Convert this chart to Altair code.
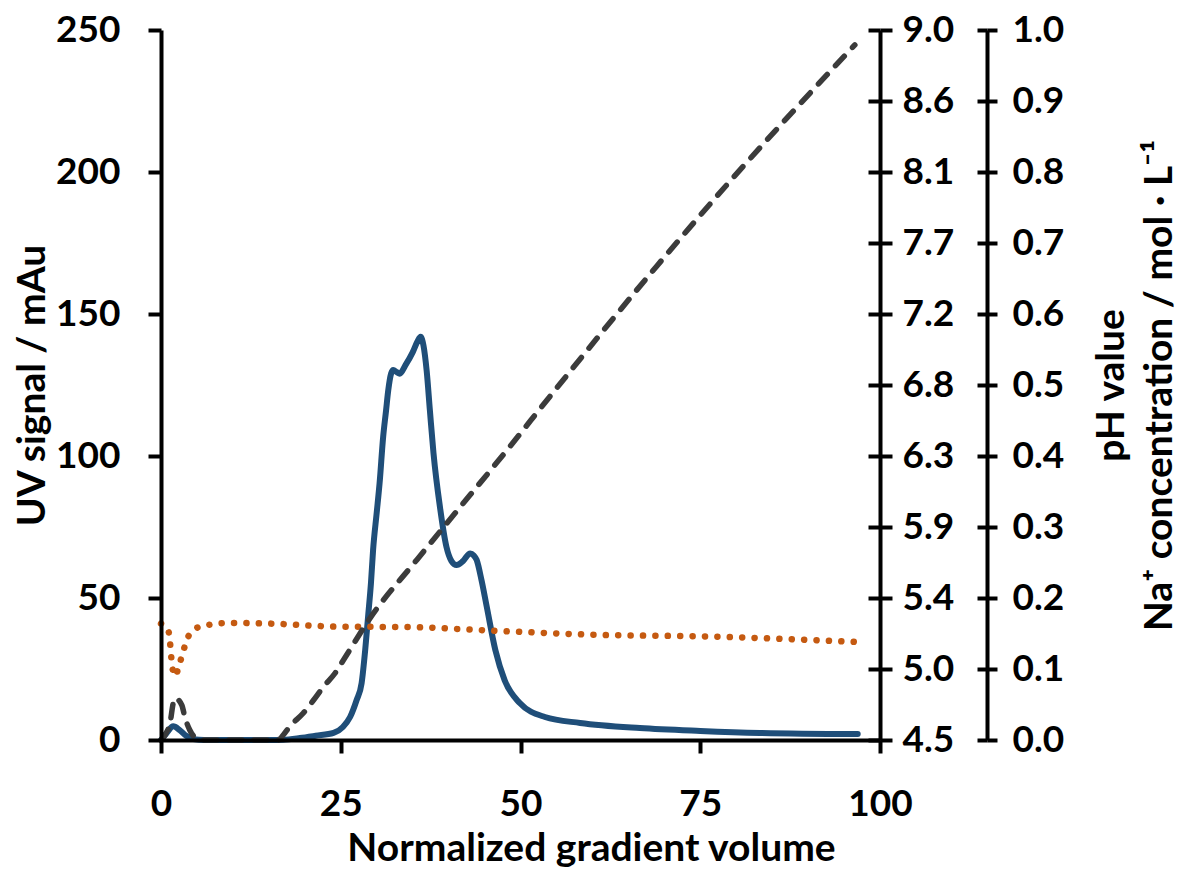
import altair as alt
import pandas as pd

# ---------------- data ----------------
uv_x = [0, 0.8, 1.7, 2.6, 3.5, 4.5, 6, 10, 15, 17, 19.3, 21.5, 24, 25.3, 26.3, 27.2,
        27.9, 28.4, 28.8, 29.2, 29.5, 30.0, 30.4, 30.9, 31.3, 31.6, 32.0, 32.3, 32.8,
        33.2, 34.0, 35.0, 35.7, 36.1, 36.5, 36.95, 37.4, 37.9, 38.8, 39.7, 40.4, 41.1,
        42.0, 43.0, 43.5, 43.9, 44.6, 45.3, 46.5, 47.8, 49.9, 53.4, 58.3, 66.6, 75,
        83.3, 96.9]
uv_y = [0, 2.5, 4.8, 3.5, 1.5, 0.3, 0, 0, 0, 0.1, 0.7, 1.5, 2.5, 4.6, 8.1, 14,
        20, 31.7, 43.4, 55.2, 67, 80, 90.4, 106.8, 116, 123, 129, 130.3, 129.5,
        129, 132, 136.5, 140.5, 142, 139, 130, 116, 101, 82, 68, 63, 61.6,
        63, 65.7, 65, 63.4, 56, 47, 31.7, 21, 13, 8.1, 6, 4.2, 3.2,
        2.5, 2.1]

ph_x = [0, 1.0, 1.25, 1.4, 1.57, 1.95, 2.55, 3.06, 3.57, 4.5, 6.1, 9.5, 15, 25, 34,
        47, 61, 75, 97]
ph_y = [5.238, 5.197, 5.121, 5.04, 4.963, 4.905, 4.979, 5.056, 5.132, 5.198, 5.225,
        5.242, 5.238, 5.218, 5.216, 5.191, 5.166, 5.157, 5.121]

na_x = [0, 1.25, 1.7, 1.95, 2.9, 3.3, 4.0, 5.0, 6, 16.3, 17.0, 17.9, 19.8, 21.2, 22.6,
        24.2, 25.4, 29.1, 35.6, 41.6, 48.1, 54.1, 69, 78.7, 96.5]
na_y = [0, 0.024, 0.052, 0.059, 0.049, 0.033, 0.014, 0.002, 0, 0, 0.007, 0.019, 0.038,
        0.056, 0.075, 0.094, 0.113, 0.172, 0.254, 0.328, 0.408, 0.484, 0.668, 0.782,
        0.979]

x_ticks = [0, 25, 50, 75, 100]
uv_ticks = [0, 50, 100, 150, 200, 250]
ph_ticks = [4.5, 4.95, 5.4, 5.85, 6.3, 6.75, 7.2, 7.65, 8.1, 8.55, 9.0]
na_ticks = [0.0, 0.1, 0.2, 0.3, 0.4, 0.5, 0.6, 0.7, 0.8, 0.9, 1.0]

x_title = "Normalized gradient volume"
uv_title = "UV signal / mAu"
right_title = ["pH value", "Na\u207a concentration / mol \u00b7 L\u207b\u00b9"]

# ---------------- chart ----------------
FONT = "Lato"
LFS = 37
TFS = 39
BLUE = "#1F4E79"
ORANGE = "#C55A11"
GREY = "#3B3B3B"

uv_df = pd.DataFrame({"x": uv_x, "v": uv_y})
ph_df = pd.DataFrame({"x": ph_x, "v": ph_y})
na_df = pd.DataFrame({"x": na_x, "v": na_y})

common_axis = dict(grid=False, domainColor="black", tickColor="black", labelColor="black",
                   titleColor="black", domainWidth=4, tickWidth=4, zindex=1,
                   labelFont=FONT, labelFontSize=LFS, labelFontWeight="bold",
                   titleFont=FONT, titleFontSize=TFS, titleFontWeight="bold")

x_enc = alt.X("x:Q", scale=alt.Scale(domain=[0, 100], nice=False, zero=False),
              axis=alt.Axis(values=x_ticks, orient="bottom", title=x_title,
                            tickSize=13, labelPadding=62, labelBaseline="alphabetic",
                            labelFlush=False, titleX=430, titleY=120, titleAlign="center",
                            titleBaseline="alphabetic", **common_axis))

uv_layer = alt.Chart(uv_df).mark_line(color=BLUE, strokeWidth=6, interpolate="monotone",
                                       strokeCap="round", strokeJoin="round").encode(
    x=x_enc,
    y=alt.Y("v:Q", scale=alt.Scale(domain=[0, 250], nice=False),
            axis=alt.Axis(values=uv_ticks, orient="left", title=uv_title, tickSize=13,
                          labelPadding=28, labelBaseline="middle", labelFlush=False,
                          titleAngle=270, titleX=-117, titleY=355, titleAlign="center",
                          titleBaseline="alphabetic", **common_axis)),
)

ph_layer = alt.Chart(ph_df).mark_line(color=ORANGE, strokeWidth=6.5, interpolate="monotone",
                                       strokeCap="round", strokeDash=[0.1, 12.3]).encode(
    x=x_enc,
    y=alt.Y("v:Q", scale=alt.Scale(domain=[4.5, 9.0], nice=False, zero=False),
            axis=alt.Axis(values=ph_ticks, orient="right", title=None, tickSize=12,
                          labelPadding=10, labelBaseline="middle", labelFlush=False,
                          labelExpr="format(datum.value + 0.0001, '.1f')", **common_axis)),
)

ph_inner = alt.Chart(ph_df).mark_line(strokeOpacity=0).encode(
    x=x_enc,
    y=alt.Y("v:Q", scale=alt.Scale(domain=[4.5, 9.0], nice=False, zero=False),
            axis=alt.Axis(values=ph_ticks, orient="left", offset=-719, title=None,
                          tickSize=12, labels=False, domain=False, **common_axis)),
)

na_layer = alt.Chart(na_df).mark_line(color=GREY, strokeWidth=5.5, interpolate="monotone",
                                       strokeCap="round", strokeDash=[13, 12]).encode(
    x=x_enc,
    y=alt.Y("v:Q", scale=alt.Scale(domain=[0, 1.0], nice=False),
            axis=alt.Axis(values=na_ticks, orient="right", offset=107, format=".1f",
                          title=right_title, tickSize=10, labelPadding=15,
                          labelBaseline="middle", labelFlush=False,
                          titleAngle=270, titleX=136, titleY=355, titleAlign="center",
                          titleBaseline="alphabetic", titleLineHeight=48, **common_axis)),
)

na_inner = alt.Chart(na_df).mark_line(strokeOpacity=0).encode(
    x=x_enc,
    y=alt.Y("v:Q", scale=alt.Scale(domain=[0, 1.0], nice=False),
            axis=alt.Axis(values=na_ticks, orient="left", offset=-826, title=None,
                          tickSize=10, labels=False, domain=False, **common_axis)),
)

chart = alt.layer(uv_layer, ph_layer, ph_inner, na_inner, na_layer).resolve_scale(
    y="independent"
).properties(
    width=719, height=710,
    autosize=alt.AutoSizeParams(type="none"),
    padding={"left": 161, "top": 30, "right": 299, "bottom": 130},
    background="white",
).configure_view(strokeWidth=0)

chart.save("out.html", embed_options={"renderer": "svg", "actions": False})
